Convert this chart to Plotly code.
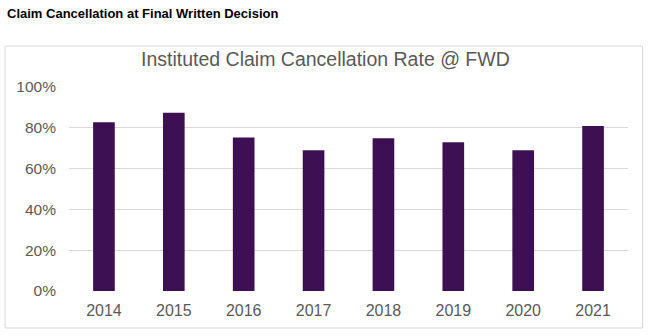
import plotly.graph_objects as go

years = ["2014", "2015", "2016", "2017", "2018", "2019", "2020", "2021"]
rates = [0.827, 0.874, 0.752, 0.69, 0.749, 0.729, 0.69, 0.809]

fig = go.Figure(go.Bar(x=years, y=rates, marker=dict(color="#3C1053", line=dict(width=0)), width=0.31))

L, R, T, B = 69, 21.5, 87, 45
W = 650 - L - R
H = 336 - T - B

fig.update_layout(
    width=650, height=336,
    margin=dict(l=L, r=R, t=T, b=B),
    paper_bgcolor="white", plot_bgcolor="white",
    font=dict(family="Liberation Sans, Arial, sans-serif", color="#595959", size=14),
    showlegend=False,
    xaxis=dict(showgrid=False, zeroline=False, showline=False, ticks="", ticklabelstandoff=8,
               tickfont=dict(size=16, color="#595959")),
    yaxis=dict(range=[0, 1], dtick=0.2, tickformat=".0%", gridcolor="#D9D9D9", gridwidth=1,
               zeroline=False, showline=False, ticks="", ticklen=0, ticklabelstandoff=12,
               tickfont=dict(size=15.5, color="#595959")),
    shapes=[dict(type="rect", xref="paper", yref="paper",
                 x0=(5 - L) / W, x1=(643 - L) / W,
                 y0=(291 - 328) / H, y1=(291 - 46) / H,
                 line=dict(color="#D9D9D9", width=1), fillcolor="rgba(0,0,0,0)", layer="below")],
    annotations=[
        dict(text="<b>Claim Cancellation at Final Written Decision</b>", xref="paper", yref="paper",
             x=(5 - L) / W, y=(291 - 14) / H, xanchor="left", yanchor="middle", showarrow=False,
             font=dict(size=13, color="black", family="Liberation Sans, Arial, sans-serif")),
        dict(text="Instituted Claim Cancellation Rate @ FWD", xref="paper", yref="paper",
             x=(326 - L) / W, y=(291 - 59) / H, xanchor="center", yanchor="middle", showarrow=False,
             font=dict(size=19.5, color="#595959", family="Liberation Sans, Arial, sans-serif")),
    ],
)
fig.write_html("out.html")
